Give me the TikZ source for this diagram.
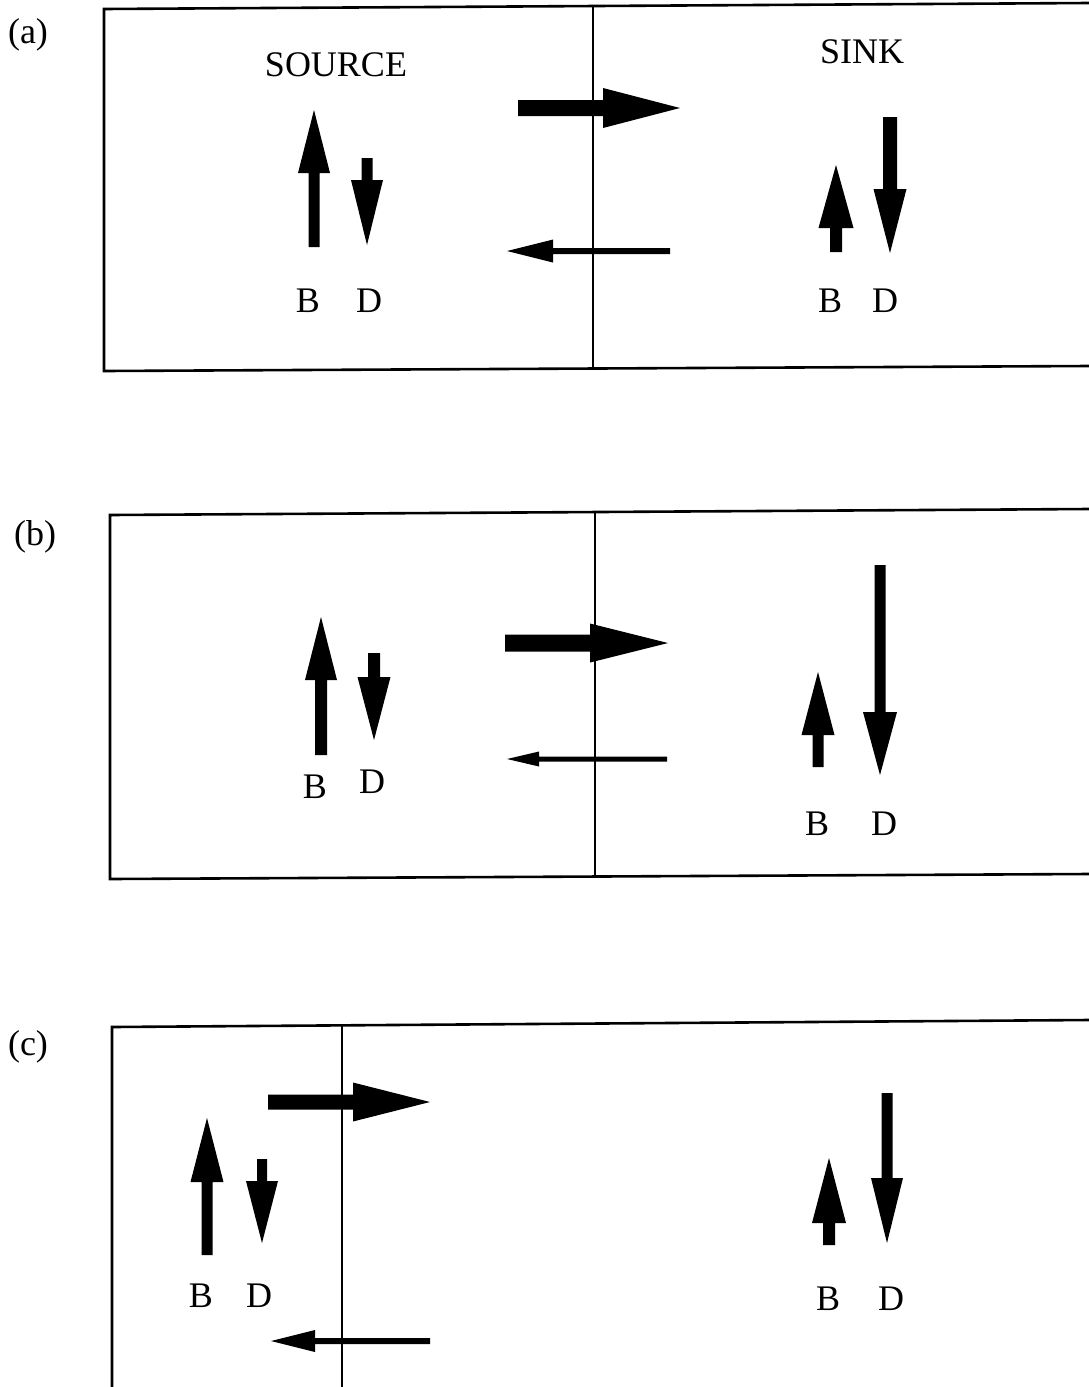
\documentclass[tikz,border=0pt]{standalone}
\usepackage{fontspec}
\setmainfont{Liberation Serif}
\usetikzlibrary{calc}

% vertical block arrow: centre x, tail y, head-base y, tip y, shaft half width, head half width
\newcommand{\blockv}[6]{%
  \fill (#1-#5,#2) -- (#1-#5,#3) -- (#1-#6,#3) -- (#1,#4) -- (#1+#6,#3) -- (#1+#5,#3) -- (#1+#5,#2) -- cycle;}
% horizontal block arrow: centre y, tail x, head-base x, tip x, shaft half width, head half width
\newcommand{\blockh}[6]{%
  \fill (#2,#1-#5) -- (#3,#1-#5) -- (#3,#1-#6) -- (#4,#1) -- (#3,#1+#6) -- (#3,#1+#5) -- (#2,#1+#5) -- cycle;}

\begin{document}
\begin{tikzpicture}[x=1pt,y=-1pt,
  lbl/.style={inner sep=0pt,anchor=base,font=\fontsize{36}{40}\selectfont},
  frame/.style={line width=2.6pt,line join=miter},
  divider/.style={line width=2pt}]
\useasboundingbox (0,0) rectangle (1089,1387);
\fill[white] (0,0) rectangle (1089,1387);

% ---------- panel (a) ----------
\node[lbl] (la) at (28,43) {(a)};
\draw[frame] (1089,3) -- (104,9) -- (104,371) -- (1089,366);
\draw[divider] (593,6) -- (593,368);
\node[lbl] (srcA) at (336,76) {SOURCE};
\node[lbl] (snkA) at (862,63) {SINK};
\blockv{314}{247}{173}{110}{5.5}{16}
\blockv{367}{158}{180}{245}{5.5}{16}
\blockv{836}{252}{228}{165}{6}{17.5}
\blockv{890}{117}{189}{253}{7}{16.5}
\blockh{108}{518}{603}{680}{8}{20}
\blockh{251}{670}{553}{507}{3}{11.5}
\node[lbl] (aB1) at (308,312) {B};
\node[lbl] (aD1) at (369,312) {D};
\node[lbl] (aB2) at (830,312) {B};
\node[lbl] (aD2) at (885,312) {D};

% ---------- panel (b) ----------
\node[lbl] (lb) at (35,545) {(b)};
\draw[frame] (1089,509) -- (110,515) -- (110,879) -- (1089,874);
\draw[divider] (595,512) -- (595,877);
\blockv{321}{755}{680}{617}{6}{16}
\blockv{374}{653}{677}{740}{6}{16.5}
\blockv{818}{767}{735}{672}{5.5}{16.5}
\blockv{880}{565}{712}{775}{5.5}{17}
\blockh{643}{505}{590}{668}{8.5}{19.5}
\blockh{759}{667}{539}{507}{2.5}{7.5}
\node[lbl] (bB1) at (315,798) {B};
\node[lbl] (bD1) at (372,793) {D};
\node[lbl] (bB2) at (817,835) {B};
\node[lbl] (bD2) at (884,835) {D};

% ---------- panel (c) ----------
\node[lbl] (lc) at (28,1055) {(c)};
\draw[frame] (1089,1020) -- (112,1027) -- (112,1395);
\draw[divider] (342,1025) -- (342,1387);
\blockv{207}{1255}{1182}{1118}{5.5}{16.5}
\blockv{262}{1159}{1181}{1243}{5}{16}
\blockv{829}{1245}{1223}{1158}{6}{17}
\blockv{887}{1093}{1178}{1243}{5.5}{16}
\blockh{1102}{268}{353}{430}{7.5}{19.5}
\blockh{1341}{430}{315}{271}{3}{11}
\node[lbl] (cB1) at (201,1307) {B};
\node[lbl] (cD1) at (259,1307) {D};
\node[lbl] (cB2) at (828,1310) {B};
\node[lbl] (cD2) at (891,1310) {D};
\end{tikzpicture}
\end{document}
